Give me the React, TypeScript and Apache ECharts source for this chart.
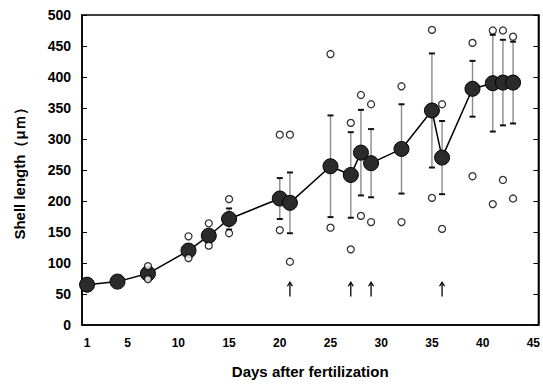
import React, { useEffect, useRef } from "react";
import * as echarts from "echarts";

// Day of sampling after fertilization
const days = [1, 4, 7, 11, 13, 15, 20, 21, 25, 27, 28, 29, 32, 35, 36, 39, 41, 42, 43];
// Mean shell length (µm)
const meanLength = [65, 70, 83, 120, 144, 171, 204, 197, 256, 242, 278, 261, 284, 346, 270, 381, 390, 391, 391];
// Standard deviation (µm); 0 where the bar is not drawn
const sdLength = [0, 0, 0, 0, 0, 17, 33, 49, 82, 69, 69, 55, 72, 92, 59, 45, 78, 69, 66];
// Largest and smallest individuals (µm)
const maxLength = [null, null, 95, 143, 164, 203, 307, 307, 437, 326, 371, 356, 385, 476, 356, 455, 475, 475, 465];
const minLength = [null, null, 74, 108, 128, 148, 153, 102, 157, 122, 176, 166, 166, 205, 155, 240, 195, 234, 204];
// Days marked with an arrow
const arrowDays = [21, 27, 29, 36];
const arrowFrom = 46;
const arrowTo = 69;

const dayCategories = Array.from({ length: 45 }, (_, i) => String(i + 1));
const shownDayLabels = ["1", "5", "10", "15", "20", "25", "30", "35", "40", "45"];
const yTicks = { min: 0, max: 500, interval: 50 };

export default function App() {
  const ref = useRef<HTMLDivElement>(null);

  useEffect(() => {
    document.body.style.margin = "0";
    const chart = echarts.init(ref.current!, null, { renderer: "svg" });

    const errorData = days
      .map((d, i) => [String(d), meanLength[i] - sdLength[i], meanLength[i] + sdLength[i], sdLength[i]])
      .filter((r) => (r[3] as number) > 0);

    const openPoints: [string, number][] = [];
    days.forEach((d, i) => {
      if (maxLength[i] != null) openPoints.push([String(d), maxLength[i] as number]);
      if (minLength[i] != null) openPoints.push([String(d), minLength[i] as number]);
    });

    const option: any = {
      animation: false,
      backgroundColor: "#fff",
      grid: {
        left: 82,
        right: 2,
        top: 15,
        bottom: 60,
        show: true,
        borderColor: "#000",
        borderWidth: 1.5,
      },
      xAxis: {
        type: "category",
        data: dayCategories,
        boundaryGap: true,
        name: "Days after fertilization",
        nameLocation: "middle",
        nameGap: 39,
        nameTextStyle: {
          fontFamily: "Liberation Sans, Arial, sans-serif",
          fontWeight: "bold",
          fontSize: 15,
          color: "#000",
        },
        axisLine: { lineStyle: { color: "#000", width: 1.5 } },
        axisTick: {
          inside: true,
          interval: 0,
          length: 4,
          lineStyle: { color: "#000", width: 1 },
        },
        axisLabel: {
          interval: (_i: number, v: string) => shownDayLabels.includes(v),
          margin: 12,
          color: "#000",
          fontFamily: "Liberation Sans Narrow, Arial Narrow, Liberation Sans, sans-serif",
          fontWeight: "bold",
          fontSize: 12,
        },
        splitLine: { show: false },
      },
      yAxis: [
        {
          type: "value",
          ...yTicks,
          name: "Shell length（μｍ）",
          nameLocation: "middle",
          nameRotate: 90,
          nameGap: 55,
          nameTextStyle: {
            fontFamily: "Liberation Sans, Arial, sans-serif",
            fontWeight: "bold",
            fontSize: 15,
            color: "#000",
          },
          axisLine: { show: true, lineStyle: { color: "#000", width: 1.5 } },
          axisTick: { show: true, inside: true, length: 5, lineStyle: { color: "#000", width: 1 } },
          axisLabel: {
            margin: 11,
            color: "#000",
            fontFamily: "Liberation Sans, Arial, sans-serif",
            fontWeight: "bold",
            fontSize: 14,
          },
          splitLine: { show: false },
        },
        {
          type: "value",
          ...yTicks,
          position: "right",
          axisLine: { show: true, lineStyle: { color: "#000", width: 1.5 } },
          axisTick: { show: true, inside: true, length: 5, lineStyle: { color: "#000", width: 1 } },
          axisLabel: { show: false },
          splitLine: { show: false },
        },
      ],
      series: [
        {
          name: "SD",
          type: "custom",
          z: 1,
          data: errorData,
          renderItem: (params: any, api: any) => {
            const x = api.value(0);
            const lo = api.coord([x, api.value(1)]);
            const hi = api.coord([x, api.value(2)]);
            const half = 3;
            return {
              type: "group",
              children: [
                {
                  type: "line",
                  shape: { x1: lo[0], y1: lo[1], x2: hi[0], y2: hi[1] },
                  style: { stroke: "#8a8a8a", lineWidth: 1.4 },
                },
                {
                  type: "line",
                  shape: { x1: hi[0] - half, y1: hi[1], x2: hi[0] + half, y2: hi[1] },
                  style: { stroke: "#111", lineWidth: 2 },
                },
                {
                  type: "line",
                  shape: { x1: lo[0] - half, y1: lo[1], x2: lo[0] + half, y2: lo[1] },
                  style: { stroke: "#111", lineWidth: 2 },
                },
              ],
            };
          },
        },
        {
          name: "Mean",
          type: "line",
          z: 3,
          data: days.map((d, i) => [String(d), meanLength[i]]),
          symbol: "circle",
          symbolSize: 15,
          showSymbol: true,
          showAllSymbol: true,
          lineStyle: { color: "#000", width: 1.5 },
          itemStyle: { color: "#2b2b2b", borderColor: "#000", borderWidth: 1 },
        },
        {
          name: "Range",
          type: "scatter",
          z: 4,
          data: openPoints,
          symbol: "circle",
          symbolSize: 7,
          itemStyle: { color: "#fff", borderColor: "#000", borderWidth: 1.3 },
        },
        {
          name: "Marked days",
          type: "custom",
          z: 4,
          data: arrowDays.map((d) => [String(d), arrowFrom, arrowTo]),
          renderItem: (params: any, api: any) => {
            const x = api.value(0);
            const a = api.coord([x, api.value(1)]);
            const b = api.coord([x, api.value(2)]);
            return {
              type: "group",
              children: [
                {
                  type: "line",
                  shape: { x1: a[0], y1: a[1], x2: b[0], y2: b[1] + 1 },
                  style: { stroke: "#000", lineWidth: 1.3 },
                },
                {
                  type: "polyline",
                  shape: {
                    points: [
                      [b[0] - 2.5, b[1] + 4],
                      [b[0], b[1]],
                      [b[0] + 2.5, b[1] + 4],
                    ],
                  },
                  style: { stroke: "#000", lineWidth: 1.3, fill: null },
                },
              ],
            };
          },
        },
      ],
    };

    chart.setOption(option);
    return () => chart.dispose();
  }, []);

  return (
    <div
      ref={ref}
      style={{ position: "absolute", left: 0, top: 0, width: 543, height: 385 }}
    />
  );
}
